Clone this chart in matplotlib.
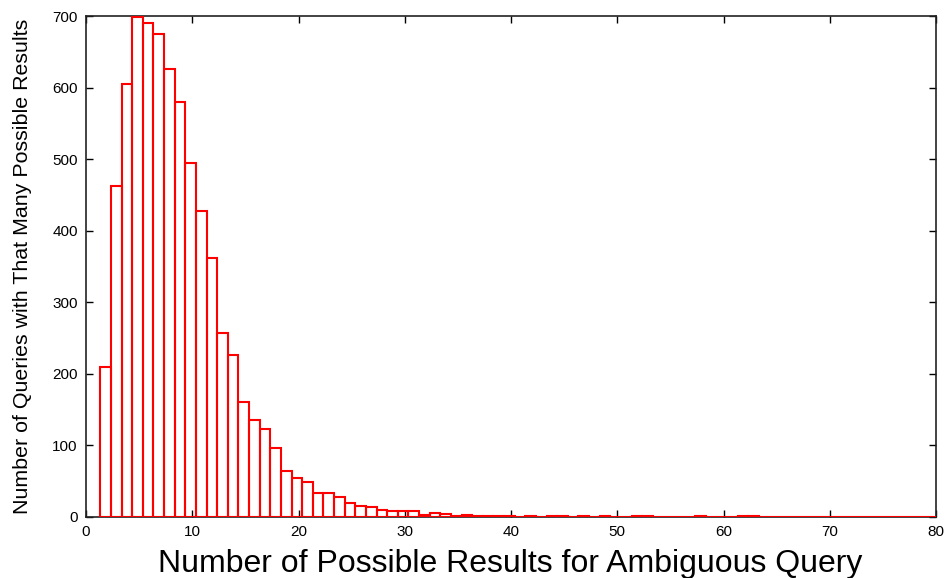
import matplotlib
matplotlib.use("Agg")
import matplotlib.pyplot as plt

plt.rcParams['font.family'] = ['Liberation Sans', 'DejaVu Sans']

# number of possible results (bins) and number of queries
results = list(range(2, 81))
counts = [210, 463, 605, 698, 690, 675, 626, 580, 494, 428,
          362, 257, 227, 160, 135, 123, 97, 64, 54, 49,
          34, 34, 28, 20, 15, 14, 10, 9, 8, 8,
          3, 5, 4, 2, 3, 1, 1, 2, 1, 0,
          1, 0, 1, 1, 0, 2, 0, 1, 0, 0,
          1, 1, 0, 0, 0, 0, 1, 0, 0, 0,
          1, 1, 0, 0, 0, 0, 0, 0, 0, 0,
          0, 0, 0, 0, 0, 0, 0, 0, 0]
x_ticks = [0, 10, 20, 30, 40, 50, 60, 70, 80]
y_ticks = [0, 100, 200, 300, 400, 500, 600, 700]

fig = plt.figure(figsize=(9.49, 5.78), dpi=100)
ax = fig.add_axes([86/949, 61/578, 850/949, 501/578])

ax.bar([r - 0.15 for r in results], counts, width=1.0, align='center',
       facecolor='none', edgecolor='#ff0000', linewidth=1.5, zorder=3)

ax.set_xlim(0, 80)
ax.set_ylim(0, 700)
ax.set_xticks(x_ticks)
ax.set_yticks(y_ticks)
ax.tick_params(direction='in', length=5, width=1, top=True, right=True,
               labelsize=11, pad=6, colors='black')
for s in ax.spines.values():
    s.set_linewidth(1.2)
    s.set_color('#222222')

ax.set_ylabel('Number of Queries with That Many Possible Results', fontsize=15.4)
ax.yaxis.set_label_coords(-0.064, 0.5)
fig.text(510/949, 6/578, 'Number of Possible Results for Ambiguous Query',
         fontsize=23, ha='center', va='baseline')

fig.savefig('out.png', dpi=100)
